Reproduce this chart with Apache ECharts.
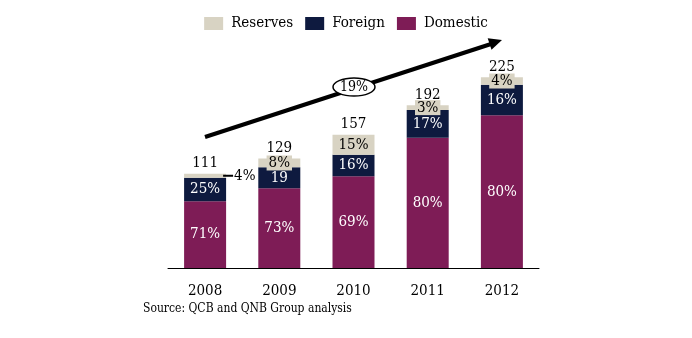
<!DOCTYPE html>
<html>
<head>
<meta charset="utf-8">
<script src="https://cdn.jsdelivr.net/npm/echarts@6/dist/echarts.min.js"></script>
<style>
  html, body { margin: 0; padding: 0; background: #fff; }
  #chart { width: 692px; height: 338px; }
</style>
</head>
<body>
<div id="chart"></div>
<script>
// Deposit totals by year and the share of each source (%)
const years = ['2008', '2009', '2010', '2011', '2012'];
const totals = [111, 129, 157, 192, 225];
const domesticShare = [71, 73, 69, 80, 80];
const foreignShare = [25, 19, 16, 17, 16];
const reservesShare = [4, 8, 15, 3, 4];
const foreignLabels = ['25%', '19', '16%', '17%', '16%'];
const cagrLabel = '19%';
const sourceNote = 'Source: QCB and QNB Group analysis';

const FONT = '"DejaVu Serif Condensed", "DejaVu Serif", serif';
const INK = '#000';
const COLORS = { reserves: '#d8d3c3', foreign: '#0e1a3f', domestic: '#7e1c56' };

const part = (shares) => shares.map((s, i) => +(totals[i] * s / 100).toFixed(2));
const domestic = part(domesticShare);
const foreign = part(foreignShare);
const reserves = part(reservesShare);

const chart = echarts.init(document.getElementById('chart'));

const inside = (color) => ({
  show: true, position: 'inside', color, fontFamily: FONT, fontSize: 15
});

chart.setOption({
  animation: false,
  textStyle: { fontFamily: FONT },
  grid: { left: 168, right: 153, top: 56, bottom: 70 },
  legend: {
    top: 11,
    left: 'center',
    data: ['Reserves', 'Foreign', 'Domestic'],
    itemWidth: 19, itemHeight: 13, itemGap: 12,
    icon: 'rect',
    textStyle: { fontFamily: FONT, fontSize: 15, color: INK, padding: [0, 0, 0, 3] }
  },
  xAxis: {
    type: 'category',
    data: years,
    axisLine: { lineStyle: { color: '#000', width: 1 } },
    axisTick: { show: false },
    axisLabel: { color: INK, fontFamily: FONT, fontSize: 15, margin: 16 }
  },
  yAxis: { type: 'value', min: 0, max: 250, show: false },
  series: [
    {
      name: 'Domestic', type: 'bar', stack: 'dep', barWidth: 42,
      itemStyle: { color: COLORS.domestic },
      label: Object.assign(inside('#fff'), { formatter: (p) => domesticShare[p.dataIndex] + '%' }),
      data: domestic
    },
    {
      name: 'Foreign', type: 'bar', stack: 'dep', barWidth: 42,
      itemStyle: { color: COLORS.foreign },
      label: Object.assign(inside('#fff'), { formatter: (p) => foreignLabels[p.dataIndex] }),
      data: foreign
    },
    {
      name: 'Reserves', type: 'bar', stack: 'dep', barWidth: 42,
      itemStyle: { color: COLORS.reserves },
      label: Object.assign(inside(INK), {
        formatter: (p) => reservesShare[p.dataIndex] + '%',
        backgroundColor: COLORS.reserves,
        padding: [0, 2, 0, 2],
        lineHeight: 15
      }),
      data: reserves.map((v, i) => i === 0 ? {
        value: v,
        label: {
          position: 'right', distance: -5,
          backgroundColor: 'transparent',
          formatter: '{ln|}{t|' + reservesShare[i] + '%}',
          rich: {
            ln: { width: 10, height: 2, backgroundColor: '#000' },
            t: { fontFamily: FONT, fontSize: 15, color: INK, padding: [0, 0, 0, 1] }
          }
        }
      } : v)
    },
    {
      name: 'Total', type: 'scatter', symbolSize: 0, z: 5,
      itemStyle: { opacity: 1 },
      label: {
        show: true, position: 'top', distance: 3, color: INK,
        fontFamily: FONT, fontSize: 15,
        formatter: (p) => String(totals[p.dataIndex])
      },
      data: totals
    }
  ],
  graphic: [
    // growth arrow
    { type: 'line', shape: { x1: 205, y1: 137, x2: 491, y2: 44 },
      style: { stroke: '#000', lineWidth: 4 }, z: 10 },
    { type: 'polygon', shape: { points: [[502, 40], [491.5, 49.7], [487.7, 38.3]] },
      style: { fill: '#000' }, z: 10 },
    { type: 'ellipse', shape: { cx: 354, cy: 87, rx: 21, ry: 9 },
      style: { fill: '#fff', stroke: '#000', lineWidth: 1.5 }, z: 11 },
    { type: 'text', x: 354, y: 87, z: 12,
      style: { text: cagrLabel, fontFamily: FONT, fontSize: 14, fill: INK,
               align: 'center', verticalAlign: 'middle' } },
    { type: 'text', left: 143, top: 303,
      style: { text: sourceNote, fontFamily: FONT, fontSize: 12, fill: INK } }
  ]
});
</script>
</body>
</html>
